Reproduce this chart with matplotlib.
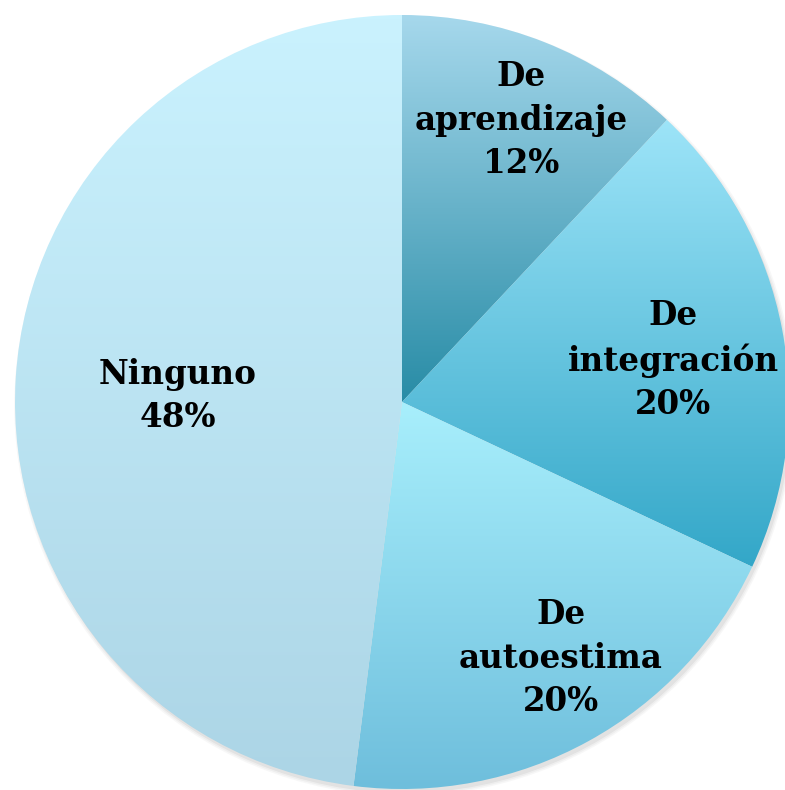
import numpy as np
import matplotlib.pyplot as plt
from matplotlib.colors import LinearSegmentedColormap
from matplotlib.patches import Circle

labels = ["De\naprendizaje\n12%", "De\nintegración\n20%", "De\nautoestima\n20%", "Ninguno\n48%"]
values = [12, 20, 20, 48]
# gradient top colour -> bottom colour for each slice
top_colors = ["#a6d8ec", "#9de4f8", "#a8effc", "#caf2fe"]
bottom_colors = ["#288ca6", "#33a7c8", "#6ebedc", "#acd5e6"]

W, H = 785, 790
cx, cy, R = 402, 402, 387

# label centres in pixels (style only)
label_px = [(521, 120), (673, 360), (561, 658), (178, 396)]

fig = plt.figure(figsize=(W / 100, H / 100), dpi=100)
ax = fig.add_axes([0, 0, 1, 1])
ax.axis("off")

# soft shadow
for k, a in enumerate([0.10, 0.08, 0.06]):
    ax.add_patch(Circle((0.006, -0.010), 1.0 + 0.004 * k, color="gray", alpha=a, lw=0, zorder=0))

wedges, _ = ax.pie(values, startangle=90, counterclock=False, radius=1.0,
                   colors=["none"] * 4, wedgeprops=dict(linewidth=0))

for i, w in enumerate(wedges):
    ext = w.get_path().get_extents()
    cmap = LinearSegmentedColormap.from_list("g%d" % i, [bottom_colors[i], top_colors[i]])
    grad = np.linspace(1, 0, 256).reshape(-1, 1)
    im = ax.imshow(grad, cmap=cmap, aspect="auto", extent=[ext.x0, ext.x1, ext.y0, ext.y1],
                   zorder=1, interpolation="bicubic")
    im.set_clip_path(w)
    w.set_zorder(2)

ax.set_xlim(-cx / R, (W - cx) / R)
ax.set_ylim(-(H - cy) / R, cy / R)
ax.set_aspect("auto")

for lab, (px, py) in zip(labels, label_px):
    ax.text((px - cx) / R, (cy - py) / R, lab, ha="center", va="center", fontsize=23.5,
            fontweight="bold", family="DejaVu Serif", linespacing=1.4, zorder=5)

fig.savefig("out.png", dpi=100)
